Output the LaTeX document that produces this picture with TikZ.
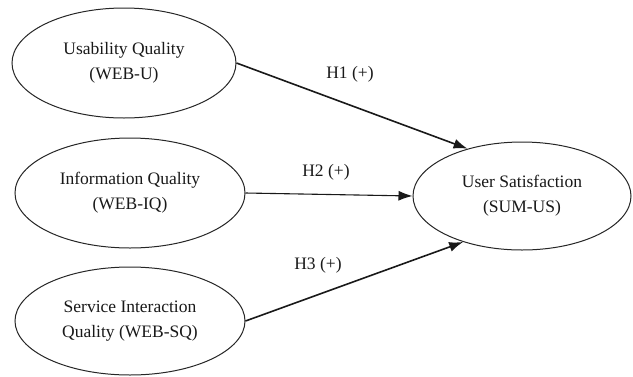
\documentclass[tikz,border=0pt]{standalone}
\usepackage{fontspec}
\setmainfont{Liberation Serif}
\usetikzlibrary{arrows.meta,shapes.geometric}
\begin{document}
\begin{tikzpicture}[x=1pt,y=-1pt,
  construct/.style={ellipse,draw=black!85,line width=1pt,inner sep=0pt,align=center,
    font=\fontsize{17.5}{25}\selectfont,text=black!90},
  path/.style={draw=black!90,line width=1.6pt,-{Latex[length=14pt,width=10pt]}},
  hyp/.style={font=\fontsize{17.5}{22}\selectfont,text=black!90}]
\useasboundingbox[fill=white] (0,0) rectangle (633,376);
\node[construct,minimum width=224pt,minimum height=110pt] (u) at (124,63) {Usability Quality\\(WEB-U)};
\node[construct,minimum width=230pt,minimum height=110pt] (i) at (130,193) {Information Quality\\(WEB-IQ)};
\node[construct,minimum width=230pt,minimum height=108pt] (q) at (130,321) {Service Interaction\\Quality (WEB-SQ)};
\node[construct,minimum width=218pt,minimum height=108pt] (s) at (522,196) {User Satisfaction\\(SUM-US)};
\draw[path] (u.east) -- (s.139);
\draw[path,line width=1.1pt] (i.east) -- (s.west);
\draw[path] (q.east) -- (s.218);
\node[hyp] (h1) at (350,74) {H1 (+)};
\node[hyp] (h2) at (326,172) {H2 (+)};
\node[hyp] (h3) at (318,265) {H3 (+)};
\end{tikzpicture}
\end{document}
